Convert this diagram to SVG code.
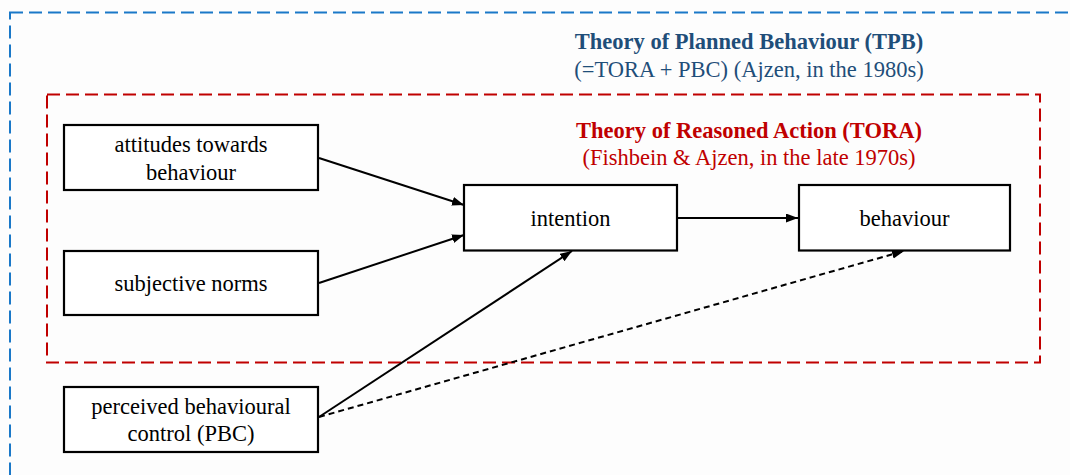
<svg xmlns="http://www.w3.org/2000/svg" width="1070" height="475" viewBox="0 0 1070 475">
  <style>
    .bg { fill: #fdfdfd; }
    .frame-tpb { fill: none; stroke: #1a78c8; stroke-width: 2; stroke-dasharray: 13 6; }
    .frame-tora { fill: none; stroke: #c00000; stroke-width: 2; stroke-dasharray: 13 6; }
    .box { fill: #ffffff; stroke: #000000; stroke-width: 2.2; }
    .label { font-family: "Liberation Serif", "Times New Roman", serif; font-size: 22.5px; fill: #000000; text-anchor: middle; }
    .title { font-family: "Liberation Serif", "Times New Roman", serif; font-size: 22.5px; text-anchor: middle; }
    .bold { font-weight: bold; }
    .tpb { fill: #1f4e79; }
    .tora { fill: #c00000; }
    .link { fill: none; stroke: #000000; stroke-width: 2; }
    .dashed { stroke-dasharray: 6 4; }
  </style>
  <defs>
    <marker id="arrow" markerUnits="userSpaceOnUse" markerWidth="13" markerHeight="10" refX="12" refY="4.5" orient="auto">
      <path d="M0,0 L12,4.5 L0,9 z" fill="#000000"/>
    </marker>
  </defs>

  <rect class="bg" x="0" y="0" width="1070" height="475"/>

  <!-- outer frame: Theory of Planned Behaviour -->
  <g id="frame-tpb">
    <rect class="frame-tpb" x="10" y="12.5" width="1090" height="500"/>
    <text class="title bold tpb" x="749" y="49">Theory of Planned Behaviour (TPB)</text>
    <text class="title tpb" x="749" y="77">(=TORA + PBC) (Ajzen, in the 1980s)</text>
  </g>

  <!-- inner frame: Theory of Reasoned Action -->
  <g id="frame-tora">
    <rect class="frame-tora" x="47" y="94.5" width="993" height="268"/>
    <text class="title bold tora" x="749" y="138">Theory of Reasoned Action (TORA)</text>
    <text class="title tora" x="749" y="165">(Fishbein &amp; Ajzen, in the late 1970s)</text>
  </g>

  <!-- connectors -->
  <g id="connectors">
    <line class="link" x1="319" y1="158" x2="464" y2="205" marker-end="url(#arrow)"/>
    <line class="link" x1="319" y1="283" x2="464" y2="235" marker-end="url(#arrow)"/>
    <line class="link" x1="319" y1="417" x2="572" y2="251" marker-end="url(#arrow)"/>
    <line class="link dashed" x1="319" y1="417" x2="904" y2="251" marker-end="url(#arrow)"/>
    <line class="link" x1="677" y1="218" x2="798" y2="218" marker-end="url(#arrow)"/>
  </g>

  <!-- nodes -->
  <g id="node-attitudes">
    <rect class="box" x="64" y="125" width="254" height="65"/>
    <text class="label" x="191" y="151.5">attitudes towards</text>
    <text class="label" x="191" y="180">behaviour</text>
  </g>

  <g id="node-norms">
    <rect class="box" x="64" y="251" width="254" height="64"/>
    <text class="label" x="191" y="291">subjective norms</text>
  </g>

  <g id="node-pbc">
    <rect class="box" x="64" y="387" width="254" height="65"/>
    <text class="label" x="191" y="413.5">perceived behavioural</text>
    <text class="label" x="191" y="441">control (PBC)</text>
  </g>

  <g id="node-intention">
    <rect class="box" x="464" y="185" width="213" height="65.5"/>
    <text class="label" x="570.5" y="225.5">intention</text>
  </g>

  <g id="node-behaviour">
    <rect class="box" x="799" y="185" width="211" height="65.5"/>
    <text class="label" x="904.5" y="225.5">behaviour</text>
  </g>
</svg>
